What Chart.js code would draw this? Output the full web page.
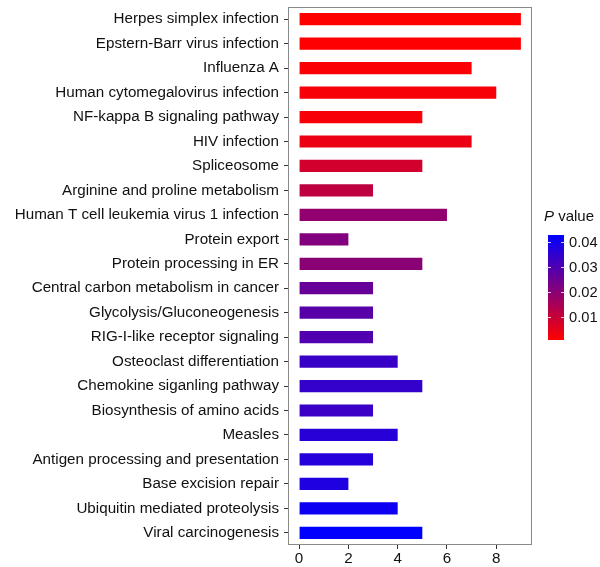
<!DOCTYPE html>
<html lang="en">
<head>
  <meta charset="UTF-8">
  <title>KEGG enrichment</title>
  <script src="https://cdn.jsdelivr.net/npm/chart.js"></script>
  <style>
    body {
      margin: 0;
      padding: 0;
      background: #fff;
    }
    #wrap {
      width: 600px;
      height: 567px;
    }
  </style>
</head>
<body>

<div id="wrap">
  <canvas id="keggChart" width="600" height="567"></canvas>
</div>

<script>
  // pathway names, top to bottom
  const pathways = [
    'Herpes simplex infection',
    'Epstern-Barr virus infection',
    'Influenza A',
    'Human cytomegalovirus infection',
    'NF-kappa B signaling pathway',
    'HIV infection',
    'Spliceosome',
    'Arginine and proline metabolism',
    'Human T cell leukemia virus 1 infection',
    'Protein export',
    'Protein processing in ER',
    'Central carbon metabolism in cancer',
    'Glycolysis/Gluconeogenesis',
    'RIG-I-like receptor signaling',
    'Osteoclast differentiation',
    'Chemokine siganling pathway',
    'Biosynthesis of amino acids',
    'Measles',
    'Antigen processing and presentation',
    'Base excision repair',
    'Ubiquitin mediated proteolysis',
    'Viral carcinogenesis'
  ];

  // gene counts
  const geneCounts = [9, 9, 7, 8, 5, 7, 5, 3, 6, 2, 5, 3, 3, 3, 4, 5, 3, 4, 3, 2, 4, 5];

  // p values
  const pValues = [
    0.0008, 0.0010, 0.0016, 0.0021, 0.0021, 0.0041, 0.0082, 0.0115,
    0.0189, 0.0214, 0.0201, 0.0260, 0.0283, 0.0296, 0.0336, 0.0344,
    0.0332, 0.0362, 0.0367, 0.0379, 0.0407, 0.0428
  ];

  const xTicks = [0, 2, 4, 6, 8];
  const legendTicks = [0.01, 0.02, 0.03, 0.04];

  const FONT = 'Liberation Sans, Arial, sans-serif';
  const pMin = Math.min(...pValues);
  const pMax = Math.max(...pValues);

  // red -> blue, plain rgb mix
  function pColor(p) {
    const t = (p - pMin) / (pMax - pMin);
    const r = Math.round(255 * (1 - t));
    const b = Math.round(255 * t);
    return `rgb(${r},0,${b})`;
  }

  // grey frame round the plot panel
  const panelBox = {
    id: 'panelBox',
    afterDatasetsDraw(chart) {
      const a = chart.chartArea;
      const ctx = chart.ctx;
      ctx.save();
      ctx.strokeStyle = '#8a8a8a';
      ctx.lineWidth = 1;
      ctx.strokeRect(a.left + 0.5, a.top + 0.5, a.right - a.left - 1, a.bottom - a.top - 1);
      ctx.restore();
    }
  };

  // colour bar legend on the right
  const colorBar = {
    id: 'colorBar',
    afterDraw(chart) {
      const ctx = chart.ctx;
      const x = 548, w = 16, top = 235, h = 105;
      const yOf = p => top + (pMax - p) / (pMax - pMin) * h;

      ctx.save();
      // title: italic P + value
      ctx.fillStyle = '#111';
      ctx.textBaseline = 'middle';
      ctx.textAlign = 'left';
      ctx.font = 'italic 15px ' + FONT;
      ctx.fillText('P', 544, 217);
      const pw = ctx.measureText('P ').width;
      ctx.font = '15px ' + FONT;
      ctx.fillText('value', 544 + pw, 217);

      const grad = ctx.createLinearGradient(0, top + h, 0, top);
      grad.addColorStop(0, pColor(pMin));
      grad.addColorStop(1, pColor(pMax));
      ctx.fillStyle = grad;
      ctx.fillRect(x, top, w, h);

      ctx.font = '14.7px ' + FONT;
      legendTicks.forEach(v => {
        const y = Math.round(yOf(v)) + 0.5;
        ctx.strokeStyle = 'rgba(255,255,255,0.8)';
        ctx.lineWidth = 1;
        ctx.beginPath();
        ctx.moveTo(x, y); ctx.lineTo(x + 3, y);
        ctx.moveTo(x + w - 3, y); ctx.lineTo(x + w, y);
        ctx.stroke();
        ctx.fillStyle = '#111';
        ctx.fillText(v.toFixed(2), x + w + 5, y);
      });
      ctx.restore();
    }
  };

  const ctx = document.getElementById('keggChart').getContext('2d');
  new Chart(ctx, {
    type: 'bar',
    data: {
      labels: pathways,
      datasets: [{
        data: geneCounts,
        backgroundColor: pValues.map(pColor),
        borderWidth: 0,
        barPercentage: 0.5,
        categoryPercentage: 1
      }]
    },
    options: {
      indexAxis: 'y',
      responsive: false,
      animation: false,
      layout: {
        padding: { top: 7, right: 68, bottom: 0, left: 0 }
      },
      plugins: {
        legend: { display: false },
        tooltip: { enabled: false }
      },
      scales: {
        x: {
          min: -0.45,
          max: 9.45,
          afterBuildTicks: scale => {
            scale.ticks = xTicks.map(v => ({ value: v }));
          },
          afterFit: scale => {
            scale.height = 22;
            scale.paddingLeft = 0;
            scale.paddingRight = 0;
          },
          border: { display: false },
          grid: {
            drawOnChartArea: false,
            drawTicks: true,
            tickLength: 4,
            color: '#333'
          },
          ticks: {
            padding: 1,
            color: '#111',
            font: { family: FONT, size: 15.2 }
          }
        },
        y: {
          afterFit: scale => {
            scale.width = 288;
            scale.paddingTop = 0;
            scale.paddingBottom = 0;
          },
          border: { display: false },
          grid: {
            offset: false,
            drawOnChartArea: false,
            drawTicks: true,
            tickLength: 4,
            color: '#333'
          },
          ticks: {
            padding: 5,
            color: '#111',
            autoSkip: false,
            font: { family: FONT, size: 15.2 }
          }
        }
      }
    },
    plugins: [panelBox, colorBar]
  });
</script>

</body>
</html>
